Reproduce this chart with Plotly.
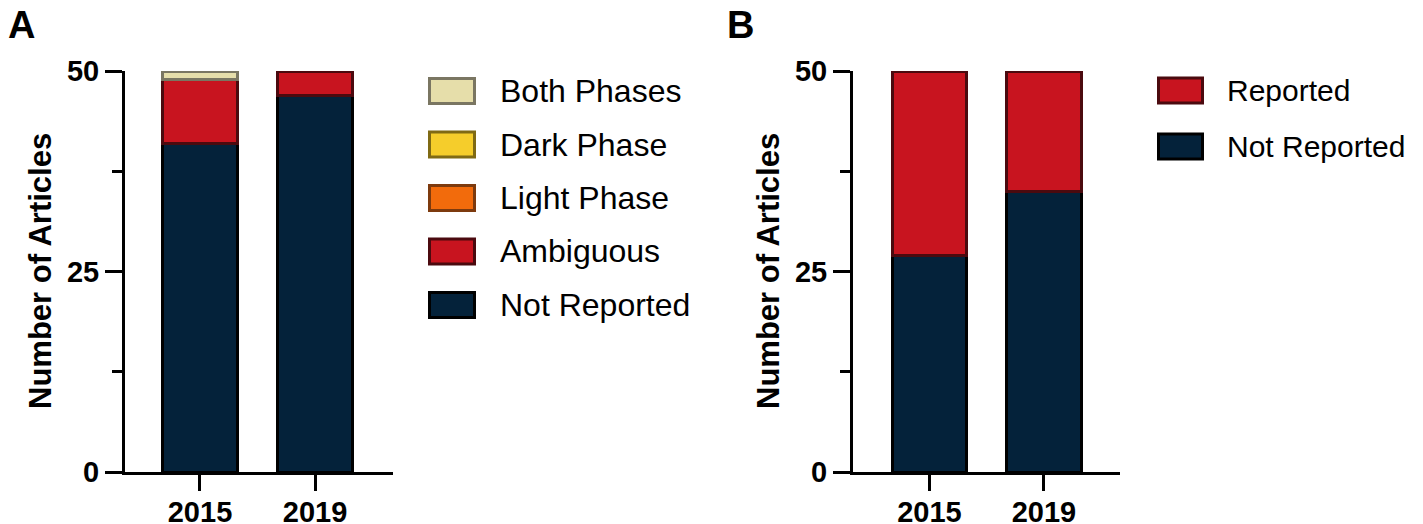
import plotly.graph_objects as go

# data
years = ["2015", "2019"]

# panel A: which phase the experiments were done in
a_not_reported = [41, 47]
a_ambiguous = [8, 3]
a_light_phase = [0, 0]
a_dark_phase = [0, 0]
a_both_phases = [1, 0]

# panel B: reported or not
b_not_reported = [27, 35]
b_reported = [23, 15]

OFF = 8  # page body margin in the browser
W, H = 1423 - OFF, 524 - OFF  # keep the figure inside the window
FONT = "Liberation Sans, Arial, Helvetica, sans-serif"

# name -> (fill, border)
colors = {
    "Not Reported": ("#04223a", "#000000"),
    "Ambiguous": ("#c8141f", "#4b0a0f"),
    "Light Phase": ("#f26b0c", "#7d3a0e"),
    "Dark Phase": ("#f5cd2b", "#7f6a14"),
    "Both Phases": ("#e6deaa", "#7a7662"),
    "Reported": ("#c8141f", "#4b0a0f"),
}

panel_a = [
    ("Not Reported", a_not_reported),
    ("Ambiguous", a_ambiguous),
    ("Light Phase", a_light_phase),
    ("Dark Phase", a_dark_phase),
    ("Both Phases", a_both_phases),
]
panel_b = [
    ("Not Reported", b_not_reported),
    ("Reported", b_reported),
]


def px_x(p):
    # window pixel -> paper fraction
    return (p - OFF) / W


def px_y(p):
    return 1 - (p - OFF) / H


fig = go.Figure()

for series, xa, ya in [(panel_a, "x", "y"), (panel_b, "x2", "y2")]:
    for name, vals in series:
        fill, border = colors[name]
        # empty segments get no outline, otherwise they leave a stray line
        lw = [3 if v else 0 for v in vals]
        fig.add_trace(go.Bar(
            x=years, y=vals, name=name, width=0.652,
            marker=dict(color=fill, line=dict(color=border, width=lw)),
            xaxis=xa, yaxis=ya, showlegend=False,
        ))

tickfont = dict(family=FONT, size=29, color="black", weight="bold")
xaxis_style = dict(
    type="category", showgrid=False, zeroline=False, automargin=False,
    showline=True, linecolor="black", linewidth=3,
    ticks="outside", ticklen=16, tickwidth=3, tickcolor="black",
    tickfont=tickfont, ticklabelstandoff=-4, fixedrange=True,
)
yaxis_style = dict(
    range=[0, 50], tickvals=[0, 25, 50], showgrid=False, zeroline=False,
    automargin=False,
    showline=True, linecolor="black", linewidth=3,
    ticks="outside", ticklen=17, tickwidth=3, tickcolor="black",
    minor=dict(tickvals=[12.5, 37.5], ticks="outside", ticklen=10,
               tickwidth=3, tickcolor="black"),
    tickfont=tickfont,
)

ydom = [px_y(472), px_y(71)]

fig.update_layout(
    width=W, height=H,
    margin=dict(l=0, r=0, t=0, b=0, autoexpand=False),
    paper_bgcolor="white", plot_bgcolor="white",
    barmode="stack",
    font=dict(family=FONT, color="black"),
    xaxis=dict(xaxis_style, domain=[px_x(125), px_x(393)], range=[-0.652, 1.678], anchor="y"),
    yaxis=dict(yaxis_style, domain=ydom, anchor="x"),
    xaxis2=dict(xaxis_style, domain=[px_x(853), px_x(1120)], range=[-0.668, 1.664], anchor="y2"),
    yaxis2=dict(yaxis_style, domain=ydom, anchor="x2"),
)

# panel letters and y titles
for letter, xp in [("A", OFF), ("B", 727)]:
    fig.add_annotation(
        text=letter, xref="paper", yref="paper", x=px_x(xp - 2), y=px_y(2),
        xanchor="left", yanchor="top", showarrow=False,
        font=dict(family=FONT, size=38, color="black", weight="bold"),
    )
for xp in [0, 728]:
    fig.add_annotation(
        text="Number of Articles", xref="paper", yref="paper",
        x=px_x(xp + 40), y=px_y(271), textangle=-90,
        xanchor="center", yanchor="middle", showarrow=False,
        font=dict(family=FONT, size=31, color="black", weight="bold"),
    )

# legends drawn as boxes + labels (top entry first, like the reference)
legends = [
    ([name for name, _ in panel_a][::-1], 429.5, 474.5, 498, 91, 53.5, 32),
    ([name for name, _ in panel_b][::-1], 1158.5, 1202.5, 1225, 90.5, 56, 30),
]
for names, bx0, bx1, tx, ytop, step, fsize in legends:
    for i, name in enumerate(names):
        fill, border = colors[name]
        yc = ytop + i * step
        fig.add_shape(
            type="rect", xref="paper", yref="paper",
            x0=px_x(bx0), x1=px_x(bx1), y0=px_y(yc - 12.5), y1=px_y(yc + 12.5),
            fillcolor=fill, line=dict(color=border, width=3),
        )
        fig.add_annotation(
            text=name, xref="paper", yref="paper", x=px_x(tx), y=px_y(yc),
            xanchor="left", yanchor="middle", showarrow=False,
            font=dict(family=FONT, size=fsize, color="black"),
        )

fig.write_html("out.html")
